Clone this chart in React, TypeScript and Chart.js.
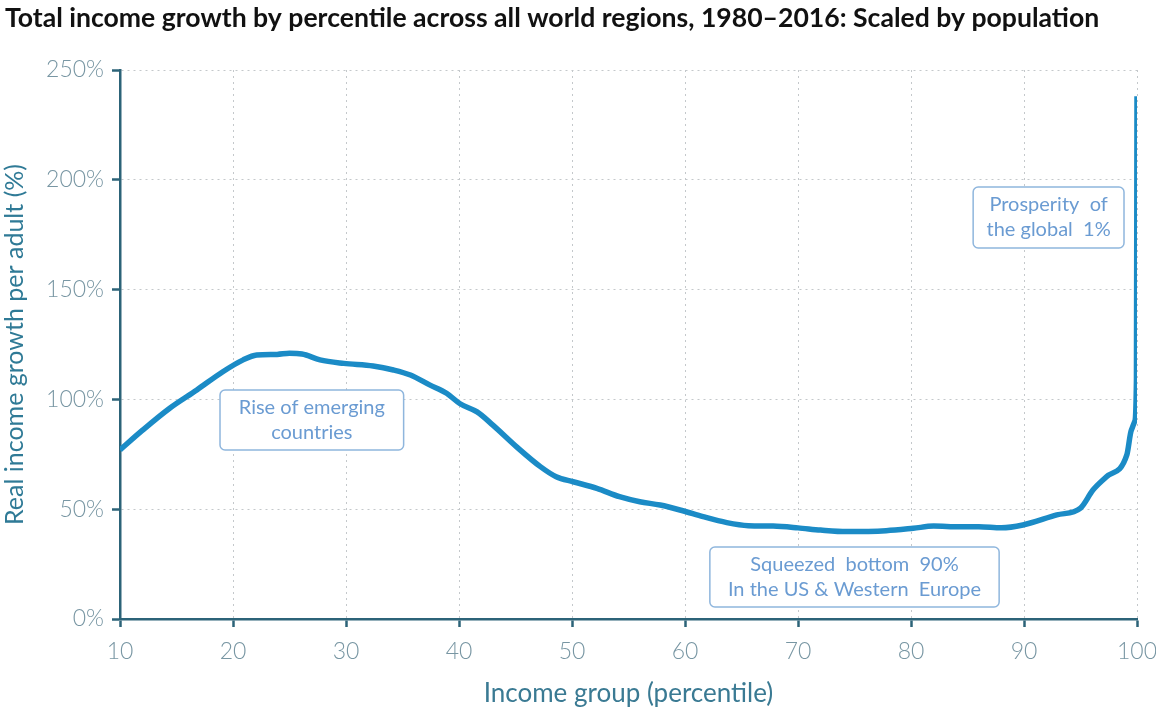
import React, { useEffect, useRef } from "react";
import { Chart, registerables } from "chart.js";

Chart.register(...registerables);

const TITLE = "Total income growth by percentile across all world regions, 1980–2016: Scaled by population";
const X_TITLE = "Income group (percentile)";
const Y_TITLE = "Real income growth per adult (%)";

const percentiles = [
  10, 12, 14.4, 16.8, 19.1, 20.9, 22.1, 23.9, 25, 26.1, 27.7, 29.8, 32.4, 34.2, 35.7, 37.4, 38.9, 40.1,
  41.6, 43, 45.1, 47.2, 48.6, 50.1, 52.2, 54.2, 56, 57.8, 59.8, 61.6, 63.7, 65.6, 67.8, 70, 72, 74.3,
  77.8, 80.2, 82, 84.3, 86, 88, 89.9, 92.9, 95, 96.1, 97.3, 99.1, 99.5, 99.8, 99.95, 100,
];
const growth = [
  77, 86, 96, 104.3, 112.6, 118, 120.2, 120.5, 121, 120.7, 118, 116.4, 115.2, 113.4, 111.1, 106.6, 102.8, 98,
  94.3, 88.3, 78.4, 69.4, 64.8, 62.5, 59.5, 55.7, 53.4, 51.9, 49.3, 46.6, 43.9, 42.5, 42.3, 41.5, 40.5, 39.8,
  40.2, 41.3, 42.3, 42, 42, 41.5, 42.8, 47.4, 50.5, 58.7, 64.8, 74.7, 86, 90, 109, 238,
];

const xTicks = [10, 20, 30, 40, 50, 60, 70, 80, 90, 100];
const yTicks = [0, 50, 100, 150, 200, 250];

// annotation boxes: [x1, x2, y1(top), y2(bottom)] in data units, lines of text
const noteLabels = [
  ["Rise of emerging", "countries"],
  ["Prosperity  of", "the global  1%"],
  ["Squeezed  bottom  90%", "In the US & Western  Europe"],
];
const noteBoxes = [
  [18.85, 35.1, 104.3, 77],
  [85.5, 98.85, 196.7, 169],
  [62.2, 87.8, 32.8, 5.5],
];

const notesPlugin = {
  id: "notes",
  beforeDatasetsDraw(chart: any) {
    const { ctx, scales } = chart;
    const xs = scales.x;
    const ys = scales.y;
    ctx.save();
    noteBoxes.forEach((b, i) => {
      const x1 = xs.getPixelForValue(b[0]);
      const x2 = xs.getPixelForValue(b[1]);
      const y1 = ys.getPixelForValue(b[2]);
      const y2 = ys.getPixelForValue(b[3]);
      ctx.beginPath();
      ctx.roundRect(x1, y1, x2 - x1, y2 - y1, 5);
      ctx.fillStyle = "#ffffff";
      ctx.fill();
      ctx.lineWidth = 1.5;
      ctx.strokeStyle = "#8fb6dd";
      ctx.stroke();
      ctx.fillStyle = "#6a9bd2";
      ctx.font = "20px Lato";
      ctx.textAlign = "center";
      ctx.textBaseline = "middle";
      const cx = (x1 + x2) / 2;
      const cy = (y1 + y2) / 2;
      const lines = noteLabels[i];
      const lh = 25;
      lines.forEach((t, j) => {
        ctx.fillText(t, cx, cy + (j - (lines.length - 1) / 2) * lh);
      });
    });
    ctx.restore();
  },
  afterDraw(chart: any) {
    const { ctx } = chart;
    ctx.save();
    ctx.fillStyle = "#111111";
    ctx.font = "bold 26.6px Lato";
    ctx.textAlign = "left";
    ctx.textBaseline = "middle";
    ctx.fillText(TITLE, 5, 18);
    ctx.restore();
  },
};

export default function App() {
  const ref = useRef<HTMLCanvasElement>(null);
  useEffect(() => {
    if (!ref.current) return;
    const chart = new Chart(ref.current, {
      type: "line",
      data: {
        datasets: [
          {
            data: percentiles.map((p, i) => ({ x: p, y: growth[i] })),
            borderColor: "#1b8bc6",
            borderWidth: 5.5,
            pointRadius: 0,
            cubicInterpolationMode: "monotone",
            fill: false,
          },
        ],
      },
      options: {
        animation: false,
        responsive: false,
        devicePixelRatio: 1,
        layout: { padding: { top: 70, right: 19, left: 0, bottom: 0 } },
        plugins: { legend: { display: false }, tooltip: { enabled: false }, title: { display: false } },
        scales: {
          x: {
            type: "linear",
            min: 10,
            max: 100,
            afterBuildTicks: (s: any) => {
              s.ticks = xTicks.map((v) => ({ value: v }));
            },
            afterFit: (s: any) => {
              s.height = 90;
              s.paddingLeft = 0;
              s.paddingRight = 0;
            },
            ticks: {
              color: "#7896a3",
              font: { family: "Lato", size: 23, weight: "300" },
              padding: 11,
              maxRotation: 0,
            },
            grid: {
              color: "#c4c8cb",
              lineWidth: 1,
              tickLength: 8,
              tickColor: "#2c6378",
              tickWidth: 2.5,
              tickBorderDash: [],
            },
            border: { display: true, color: "#2c6378", width: 2.5, dash: [2, 4] },
            title: {
              display: true,
              text: X_TITLE,
              color: "#3a7a93",
              font: { family: "Lato", size: 26 },
              padding: { top: 0, bottom: 0 },
            },
          },
          y: {
            min: 0,
            max: 250,
            afterBuildTicks: (s: any) => {
              s.ticks = yTicks.map((v) => ({ value: v }));
            },
            afterFit: (s: any) => {
              s.width = 120;
            },
            ticks: {
              color: "#7896a3",
              font: { family: "Lato", size: 23, weight: "300" },
              padding: 8,
              callback: (v: any) => v + "%",
            },
            grid: {
              color: "#c4c8cb",
              lineWidth: 1,
              tickLength: 8,
              tickColor: "#2c6378",
              tickWidth: 2.5,
              tickBorderDash: [],
            },
            border: { display: true, color: "#2c6378", width: 2.5, dash: [2, 4] },
            title: {
              display: true,
              text: Y_TITLE,
              color: "#2f7a96",
              font: { family: "Lato", size: 25 },
              padding: { top: 0, bottom: 0 },
            },
          },
        },
      },
      plugins: [notesPlugin],
    } as any);
    return () => chart.destroy();
  }, []);
  return (
    <div style={{ position: "fixed", left: 0, top: 0, width: 1156, height: 709, background: "#fff" }}>
      <canvas ref={ref} width={1156} height={709} />
    </div>
  );
}
